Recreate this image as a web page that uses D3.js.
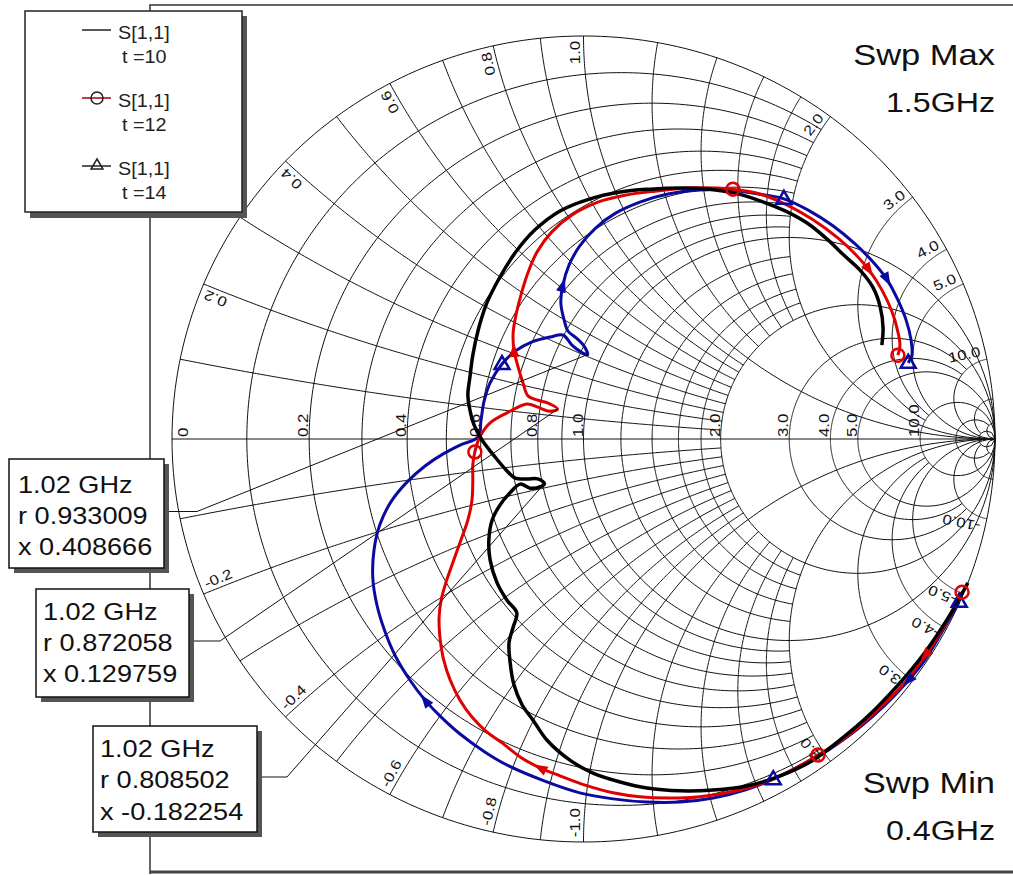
<!DOCTYPE html>
<html>
<head>
<meta charset="utf-8">
<script src="https://cdn.jsdelivr.net/npm/d3@7"></script>
<style>
  body { margin: 0; background: #fff; }
  svg { display: block; }
  text { font-family: "Liberation Sans", Arial, sans-serif; }
</style>
</head>
<body>
<div id="chart"></div>
<script>
const width = 1013;
const height = 875;

// grid: [value, limit] -> r circles drawn for |x| <= limit, x arcs for r <= limit
const rCircles = [[0.1, 2], [0.2, 2], [0.3, 2], [0.4, 2], [0.5, 2], [0.6, 2], [0.7, 2], [0.8, 2], [0.9, 2],
  [1, Infinity], [1.2, 2], [1.4, 2], [1.6, 2], [1.8, 2], [2, Infinity], [3, 10], [4, 10], [5, Infinity],
  [10, Infinity], [20, 50], [50, Infinity]];
const xArcs = [[0.1, 2], [0.2, 2], [0.3, 2], [0.4, 2], [0.5, 2], [0.6, 2], [0.7, 2], [0.8, 2], [0.9, 2],
  [1, Infinity], [1.2, 2], [1.4, 2], [1.6, 2], [1.8, 2], [2, Infinity], [3, 10], [4, 10], [5, Infinity],
  [10, Infinity], [20, 50], [50, Infinity]];
const rLabels = [0, 0.2, 0.4, 0.6, 0.8, 1.0, 2.0, 3.0, 4.0, 5.0, 10.0];
const xLabels = [0.2, 0.4, 0.6, 0.8, 1.0, 2.0, 3.0, 4.0, 5.0, 10.0];

// S[1,1] reflection coefficient, 0.4 .. 1.5 GHz (real / imag)
const t10Re = [0.934,0.886,0.830,0.769,0.689,0.623,0.558,0.478,0.397,0.315,0.235,0.154,0.089,0.023,-0.033,-0.089,-0.123,-0.149,-0.169,-0.179,-0.181,-0.171,-0.162,-0.186,-0.210,-0.227,-0.230,-0.222,-0.203,-0.179,-0.154,-0.130,-0.106,-0.095,-0.111,-0.137,-0.166,-0.188,-0.217,-0.247,-0.266,-0.276,-0.281,-0.276,-0.269,-0.256,-0.235,-0.203,-0.166,-0.118,-0.057,0.016,0.089,0.162,0.235,0.307,0.368,0.429,0.490,0.546,0.594,0.635,0.672,0.704,0.721,0.728,0.725];
const t10Im = [-0.357,-0.444,-0.529,-0.605,-0.690,-0.747,-0.797,-0.836,-0.861,-0.871,-0.873,-0.866,-0.851,-0.829,-0.797,-0.747,-0.697,-0.660,-0.610,-0.548,-0.506,-0.467,-0.432,-0.400,-0.357,-0.300,-0.251,-0.201,-0.164,-0.134,-0.112,-0.122,-0.119,-0.110,-0.099,-0.099,-0.097,-0.077,-0.042,-0.002,0.035,0.072,0.109,0.154,0.208,0.270,0.337,0.402,0.462,0.519,0.566,0.596,0.613,0.620,0.623,0.620,0.610,0.591,0.566,0.534,0.494,0.454,0.419,0.375,0.328,0.275,0.233];
const t12Re = [0.920,0.878,0.830,0.769,0.701,0.635,0.570,0.502,0.429,0.356,0.283,0.205,0.137,0.072,0.004,-0.057,-0.106,-0.154,-0.198,-0.235,-0.271,-0.300,-0.324,-0.341,-0.349,-0.351,-0.346,-0.334,-0.317,-0.298,-0.281,-0.271,-0.269,-0.269,-0.264,-0.252,-0.227,-0.186,-0.137,-0.111,-0.084,-0.063,-0.086,-0.113,-0.135,-0.147,-0.159,-0.169,-0.171,-0.164,-0.152,-0.137,-0.113,-0.077,-0.028,0.035,0.101,0.174,0.259,0.363,0.429,0.490,0.555,0.618,0.660,0.694,0.725,0.750,0.764,0.769,0.764];
const t12Im = [-0.380,-0.462,-0.538,-0.618,-0.685,-0.742,-0.784,-0.824,-0.856,-0.876,-0.888,-0.891,-0.888,-0.878,-0.859,-0.836,-0.816,-0.789,-0.754,-0.727,-0.690,-0.648,-0.598,-0.543,-0.491,-0.444,-0.400,-0.355,-0.305,-0.251,-0.201,-0.151,-0.102,-0.065,-0.032,0.005,0.040,0.065,0.087,0.079,0.069,0.074,0.089,0.097,0.107,0.139,0.179,0.221,0.263,0.308,0.357,0.407,0.464,0.514,0.556,0.588,0.605,0.615,0.623,0.620,0.608,0.583,0.546,0.499,0.459,0.419,0.370,0.315,0.266,0.233,0.208];
const t14Re = [0.913,0.871,0.830,0.789,0.733,0.672,0.599,0.526,0.461,0.392,0.315,0.235,0.154,0.072,-0.009,-0.094,-0.186,-0.239,-0.300,-0.349,-0.385,-0.422,-0.456,-0.482,-0.502,-0.512,-0.509,-0.495,-0.468,-0.429,-0.385,-0.341,-0.300,-0.256,-0.249,-0.242,-0.227,-0.198,-0.166,-0.125,-0.081,-0.050,-0.028,-0.009,0.010,0.001,-0.018,-0.038,-0.047,-0.055,-0.050,-0.035,-0.009,0.030,0.079,0.137,0.205,0.283,0.356,0.424,0.487,0.546,0.606,0.660,0.701,0.738,0.764,0.784,0.796,0.798,0.789];
const t14Im = [-0.404,-0.479,-0.548,-0.600,-0.660,-0.715,-0.769,-0.811,-0.844,-0.871,-0.891,-0.901,-0.901,-0.893,-0.878,-0.849,-0.809,-0.777,-0.732,-0.687,-0.648,-0.598,-0.541,-0.479,-0.412,-0.345,-0.275,-0.213,-0.156,-0.107,-0.067,-0.037,-0.015,0.005,0.047,0.092,0.139,0.186,0.218,0.241,0.253,0.258,0.233,0.218,0.209,0.231,0.251,0.268,0.295,0.337,0.382,0.432,0.479,0.524,0.561,0.588,0.608,0.618,0.618,0.608,0.596,0.568,0.529,0.484,0.442,0.395,0.345,0.295,0.246,0.208,0.189];

const seriesNames = ['S[1,1]', 'S[1,1]', 'S[1,1]'];
const seriesParams = ['t =10', 't =12', 't =14'];
const t12Markers = [0, 6, 34, 59, 70];
const t14Markers = [0, 8, 37, 60, 70];
const t12Arrows = [2, 16, 47, 65];
const t14Arrows = [3, 20, 50, 65];

// marker readouts at 1.02 GHz
const readFreq = ['1.02 GHz', '1.02 GHz', '1.02 GHz'];
const readR = [0.933009, 0.872058, 0.808502];
const readX = [0.408666, 0.129759, -0.182254];

const sweepMax = ['Swp Max', '1.5GHz'];
const sweepMin = ['Swp Min', '0.4GHz'];

const gx = d3.scaleLinear().domain([-1, 1]).range([172, 995]);
const gy = d3.scaleLinear().domain([-1, 1]).range([842, 36]);

function gamma(r, x) {
  const d = (r + 1) * (r + 1) + x * x;
  return [(r * r + x * x - 1) / d, 2 * x / d];
}

function rCirclePts(r, lim) {
  const a = Math.atan(lim);
  return d3.range(0, 301).map(i => gamma(r, Math.tan(-a + 2 * a * i / 300)));
}

function xArcPts(x, lim) {
  const a = Math.atan(lim);
  return d3.range(0, 201).map(i => gamma(Math.tan(a * i / 200), x));
}

const line = d3.line().x(d => gx(d[0])).y(d => gy(d[1]));
const smooth = d3.line().x(d => gx(d[0])).y(d => gy(d[1])).curve(d3.curveCatmullRom.alpha(0.5));

const svg = d3.select('#chart').append('svg')
  .attr('width', width)
  .attr('height', height);

svg.append('rect').attr('width', width).attr('height', height).attr('fill', '#fff');

// frame
svg.append('path')
  .attr('d', 'M150,874 L150,5 L1013,5')
  .attr('fill', 'none')
  .attr('stroke', '#333')
  .attr('stroke-width', 1.5);
svg.append('line')
  .attr('x1', 150).attr('x2', width).attr('y1', 872).attr('y2', 872)
  .attr('stroke', '#444').attr('stroke-width', 3);

// grid
const grid = svg.append('g')
  .attr('fill', 'none')
  .attr('stroke', '#111')
  .attr('stroke-width', 1);

grid.append('path').attr('d', line(rCirclePts(0, Infinity)));
grid.append('path').attr('d', line([[-1, 0], [1, 0]]));

rCircles.forEach(function(c) {
  grid.append('path').attr('d', line(rCirclePts(c[0], c[1])));
});
xArcs.forEach(function(c) {
  grid.append('path').attr('d', line(xArcPts(c[0], c[1])));
  grid.append('path').attr('d', line(xArcPts(-c[0], c[1])));
});

// r labels along the real axis
const labels = svg.append('g')
  .attr('font-size', 14)
  .attr('fill', '#111');

rLabels.forEach(function(r) {
  let px = gx((r - 1) / (r + 1)) - 1;
  if (r === 0) px = gx(-1) + 16;
  labels.append('text')
    .attr('transform', 'translate(' + px + ',' + (gy(0) - 2) + ') rotate(-90) scale(1.2,1)')
    .text(r === 0 ? '0' : r.toFixed(1));
});

// x labels around the rim
xLabels.forEach(function(v) {
  [1, -1].forEach(function(s) {
    const g = gamma(0, s * v);
    const th = Math.atan2(g[1], g[0]);
    const px = gx(0.988 * Math.cos(th));
    const py = gy(0.988 * Math.sin(th));
    const thd = th * 180 / Math.PI;
    const rot = s > 0 ? -thd : 180 - thd;
    const rr = rot * Math.PI / 180;
    const ux = Math.sin(rr), uy = -Math.cos(rr);
    labels.append('text')
      .attr('text-anchor', s > 0 ? 'end' : 'start')
      .attr('transform', 'translate(' + (px + 4 * ux) + ',' + (py + 4 * uy) + ') rotate(' + rot + ') scale(1.2,1)')
      .text((s > 0 ? '' : '-') + v.toFixed(1));
  });
});

// traces
const series = [
  {re: t14Re, im: t14Im, color: '#0a0aa0', w: 3, markers: t14Markers, arrows: t14Arrows, sym: 'tri'},
  {re: t12Re, im: t12Im, color: '#e00000', w: 3, markers: t12Markers, arrows: t12Arrows, sym: 'circ'},
  {re: t10Re, im: t10Im, color: '#000', w: 3.5, markers: [], arrows: [], sym: null}
];

series.forEach(function(s) {
  s.pts = s.re.map((v, i) => [v, s.im[i]]);
  svg.append('path')
    .attr('d', smooth(s.pts))
    .attr('fill', 'none')
    .attr('stroke', s.color)
    .attr('stroke-width', s.w)
    .attr('stroke-linejoin', 'round');
});

series.forEach(function(s) {
  s.arrows.forEach(function(i) {
    const p = s.pts[i], q = s.pts[i + 1];
    const a = Math.atan2(gy(q[1]) - gy(p[1]), gx(q[0]) - gx(p[0])) * 180 / Math.PI;
    svg.append('path')
      .attr('d', 'M7,0 L-7,-5 L-7,5 Z')
      .attr('fill', s.color)
      .attr('transform', 'translate(' + gx(p[0]) + ',' + gy(p[1]) + ') rotate(' + a + ')');
  });
  s.markers.forEach(function(i) {
    const p = s.pts[i];
    if (s.sym === 'circ') {
      svg.append('circle')
        .attr('cx', gx(p[0])).attr('cy', gy(p[1])).attr('r', 6.5)
        .attr('fill', 'none').attr('stroke', s.color).attr('stroke-width', 2.5);
    } else {
      svg.append('path')
        .attr('d', 'M0,-8 L7.5,5 L-7.5,5 Z')
        .attr('transform', 'translate(' + gx(p[0]) + ',' + gy(p[1]) + ')')
        .attr('fill', 'none').attr('stroke', s.color).attr('stroke-width', 2.5);
    }
  });
});

// sweep text
[[sweepMax[0], 65], [sweepMax[1], 112], [sweepMin[0], 793], [sweepMin[1], 840]].forEach(function(t, i) {
  svg.append('text')
    .attr('text-anchor', 'end')
    .attr('font-size', i % 2 ? 28 : 30)
    .attr('fill', '#111')
    .attr('transform', 'translate(995,' + t[1] + ') scale(1.15,1)')
    .text(t[0]);
});

// legend
const legend = svg.append('g');
legend.append('rect').attr('x', 30).attr('y', 16).attr('width', 217).attr('height', 202).attr('fill', '#555');
legend.append('rect').attr('x', 25).attr('y', 11).attr('width', 217).attr('height', 201)
  .attr('fill', '#fff').attr('stroke', '#222').attr('stroke-width', 1.5);
const legendY = [30, 98, 166];
seriesNames.forEach(function(n, i) {
  const y = legendY[i];
  legend.append('line').attr('x1', 82).attr('x2', 111).attr('y1', y).attr('y2', y)
    .attr('stroke', i === 1 ? '#a00' : '#222').attr('stroke-width', 1.5);
  if (i === 1) {
    legend.append('circle').attr('cx', 97).attr('cy', y).attr('r', 6)
      .attr('fill', 'none').attr('stroke', '#222').attr('stroke-width', 1.5);
  }
  if (i === 2) {
    legend.append('path').attr('d', 'M0,-7 L6,3 L-6,3 Z')
      .attr('transform', 'translate(97,' + y + ')')
      .attr('fill', 'none').attr('stroke', '#222').attr('stroke-width', 1.5);
  }
  legend.append('text').attr('font-size', 18).attr('fill', '#222')
    .attr('transform', 'translate(118,' + (y + 9) + ') scale(1.1,1)').text(n);
  legend.append('text').attr('font-size', 18).attr('fill', '#222')
    .attr('transform', 'translate(122,' + (y + 33) + ') scale(1.1,1)').text(seriesParams[i]);
});

// marker readout boxes: blue, red, black loop tips
const boxes = [
  {x: 9, y: 459, w: 155, h: 109, ty: [493, 524, 555], tx: 18, lx: 197},
  {x: 36, y: 589, w: 153, h: 108, ty: [620, 651, 682], tx: 43, lx: 220},
  {x: 93, y: 726, w: 164, h: 106, ty: [757, 788, 820], tx: 100, lx: 287}
];
boxes.forEach(function(b, i) {
  const g = gamma(readR[i], readX[i]);
  const my = b.y + b.h / 2 - 2;
  svg.append('path')
    .attr('d', 'M' + (b.x + b.w) + ',' + my + ' L' + b.lx + ',' + my + ' L' + gx(g[0]) + ',' + gy(g[1]))
    .attr('fill', 'none').attr('stroke', '#111').attr('stroke-width', 1);
  svg.append('rect').attr('x', b.x + 5).attr('y', b.y + 5).attr('width', b.w).attr('height', b.h).attr('fill', '#555');
  svg.append('rect').attr('x', b.x).attr('y', b.y).attr('width', b.w).attr('height', b.h)
    .attr('fill', '#fff').attr('stroke', '#111').attr('stroke-width', 1.5);
  const lines = [readFreq[i], 'r ' + readR[i].toFixed(6), 'x ' + readX[i].toFixed(6)];
  lines.forEach(function(t, k) {
    svg.append('text').attr('font-size', 23).attr('fill', '#111')
      .attr('transform', 'translate(' + b.tx + ',' + b.ty[k] + ') scale(1.18,1)')
      .text(t);
  });
});
</script>
</body>
</html>
